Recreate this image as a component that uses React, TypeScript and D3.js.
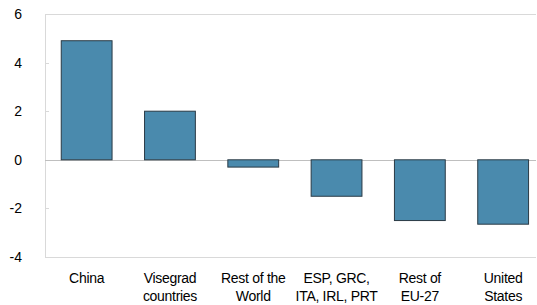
import React from "react";
import * as d3 from "d3";

const categories: string[][] = [
  ["China"],
  ["Visegrad", "countries"],
  ["Rest of the", "World"],
  ["ESP, GRC,", "ITA, IRL, PRT"],
  ["Rest of", "EU-27"],
  ["United", "States"],
];
const values: number[] = [4.9, 2.0, -0.3, -1.5, -2.5, -2.65];
const yTicks: number[] = [-4, -2, 0, 2, 4, 6];

const W = 537;
const H = 305;
const left = 45;
const right = 536;
const top = 14;
const bottom = 257;

export default function App() {
  const x = d3
    .scaleBand<number>()
    .domain(values.map((_, i) => i))
    .range([left, left + 6 * 83.3])
    .paddingInner(0.39)
    .paddingOuter(0.195);
  const y = d3.scaleLinear().domain([-4, 6]).range([bottom, top]);
  const font = "'Liberation Sans', Arial, sans-serif";
  return (
    <svg
      width={W}
      height={H}
      style={{ position: "absolute", left: 0, top: 0 }}
      fontFamily={font}
    >
      <line x1={left} x2={right} y1={top + 0.5} y2={top + 0.5} stroke="#d9d9d9" />
      <line x1={left} x2={right} y1={bottom + 0.5} y2={bottom + 0.5} stroke="#d9d9d9" />
      <line x1={left + 0.5} x2={left + 0.5} y1={top} y2={bottom} stroke="#d9d9d9" />
      {yTicks.map((t) => (
        <g key={t}>
          <line x1={left} x2={left + 4} y1={Math.round(y(t)) + 0.5} y2={Math.round(y(t)) + 0.5} stroke="#d9d9d9" />
          <text x={22} y={y(t)} dy="0.35em" textAnchor="end" fontSize={14} fill="#000">
            {t}
          </text>
        </g>
      ))}
      <line x1={left} x2={right} y1={Math.round(y(0)) + 0.5} y2={Math.round(y(0)) + 0.5} stroke="#bfbfbf" />
      {values.map((v, i) => (
        <rect
          key={i}
          x={x(i)!}
          width={x.bandwidth()}
          y={Math.min(y(v), y(0))}
          height={Math.abs(y(v) - y(0))}
          fill="#4a8aad"
          stroke="#2a3a45"
          strokeWidth={1}
        />
      ))}
      {categories.map((lines, i) => (
        <text
          key={i}
          x={x(i)! + x.bandwidth() / 2}
          y={283}
          textAnchor="middle"
          fontSize={14}
          letterSpacing={-0.3}
          fill="#000"
        >
          {lines.map((l, j) => (
            <tspan key={j} x={x(i)! + x.bandwidth() / 2} dy={j === 0 ? 0 : 18}>
              {l}
            </tspan>
          ))}
        </text>
      ))}
    </svg>
  );
}
